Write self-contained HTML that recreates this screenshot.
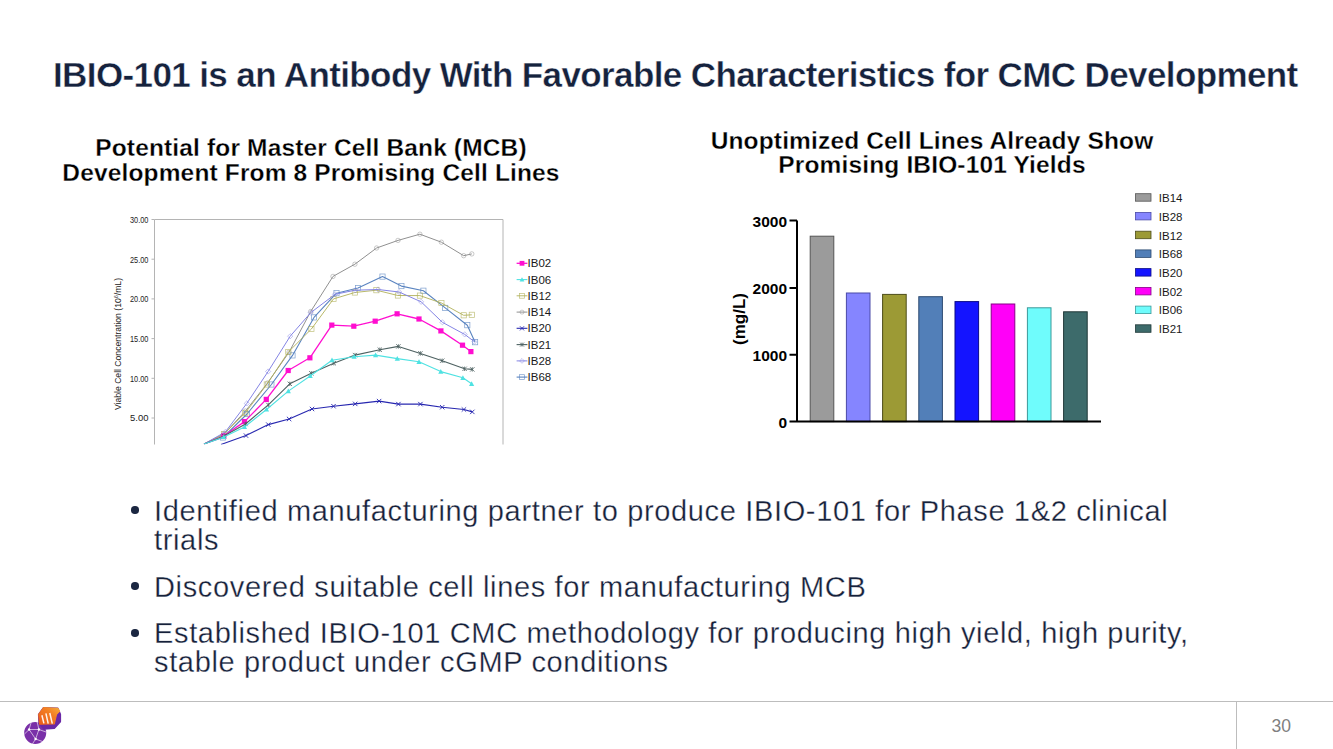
<!DOCTYPE html>
<html><head><meta charset="utf-8">
<style>
html,body{margin:0;padding:0;background:#fff;}
body{width:1333px;height:749px;position:relative;overflow:hidden;font-family:"Liberation Sans",sans-serif;}
.a{position:absolute;white-space:nowrap;}
#title{left:53px;top:55px;font-size:35px;font-weight:bold;color:#15223d;line-height:40px;letter-spacing:-0.61px;-webkit-text-stroke:0.4px #fff;}
.sub{font-size:24.5px;font-weight:bold;color:#000;line-height:24.3px;text-align:center;letter-spacing:0.15px;-webkit-text-stroke:0.3px #fff;}
#subL{left:61px;top:136.3px;width:500px;}
#subR{left:682px;top:128.6px;width:500px;}
.bl{left:154px;font-size:29px;color:#16213a;line-height:29.3px;letter-spacing:0.65px;-webkit-text-stroke:0.3px #fff;}
.dot{position:absolute;width:7.5px;height:7.5px;border-radius:50%;background:#1b2741;}
#footline{left:0;top:701px;width:1333px;height:1px;background:#bdbdbd;}
#footv{left:1236px;top:701px;width:1px;height:48px;background:#bdbdbd;}
#pnum{left:1271.5px;top:715.5px;font-size:17.5px;color:#808080;line-height:20px;}
</style></head>
<body>
<div class="a" id="title">IBIO-101 is an Antibody With Favorable Characteristics for CMC Development</div>
<div class="a sub" id="subL">Potential for Master Cell Bank (MCB)<br>Development From 8 Promising Cell Lines</div>
<div class="a sub" id="subR">Unoptimized Cell Lines Already Show<br>Promising IBIO-101 Yields</div>

<div class="dot" style="left:131.2px;top:506.3px"></div>
<div class="a bl" id="b1" style="top:497px">Identified manufacturing partner to produce IBIO-101 for Phase 1&amp;2 clinical<br>trials</div>
<div class="dot" style="left:131.2px;top:582.2px"></div>
<div class="a bl" id="b3" style="top:573px">Discovered suitable cell lines for manufacturing MCB</div>
<div class="dot" style="left:131.2px;top:629px"></div>
<div class="a bl" id="b4" style="top:619px">Established IBIO-101 CMC methodology for producing high yield, high purity,<br>stable product under cGMP conditions</div>

<div class="a" id="footline"></div>
<div class="a" id="footv"></div>
<div class="a" id="pnum">30</div>

<!-- CHARTS -->
<svg class="a" style="left:0;top:0" width="1333" height="749" viewBox="0 0 1333 749">
<g id="linechart">
<path d="M154.5 444.5V219.5H503V444.5" fill="none" stroke="#b4b4b4" stroke-width="1"/>
<path d="M151.5 219.5H154.5" stroke="#b4b4b4" stroke-width="1"/>
<text x="148.4" y="222.9" text-anchor="end" font-size="9.6" textLength="18.4" lengthAdjust="spacingAndGlyphs" fill="#222">30.00</text>
<path d="M151.5 259.2H154.5" stroke="#b4b4b4" stroke-width="1"/>
<text x="148.4" y="262.6" text-anchor="end" font-size="9.6" textLength="18.4" lengthAdjust="spacingAndGlyphs" fill="#222">25.00</text>
<path d="M151.5 298.9H154.5" stroke="#b4b4b4" stroke-width="1"/>
<text x="148.4" y="302.3" text-anchor="end" font-size="9.6" textLength="18.4" lengthAdjust="spacingAndGlyphs" fill="#222">20.00</text>
<path d="M151.5 338.6H154.5" stroke="#b4b4b4" stroke-width="1"/>
<text x="148.4" y="342.0" text-anchor="end" font-size="9.6" textLength="18.4" lengthAdjust="spacingAndGlyphs" fill="#222">15.00</text>
<path d="M151.5 378.3H154.5" stroke="#b4b4b4" stroke-width="1"/>
<text x="148.4" y="381.7" text-anchor="end" font-size="9.6" textLength="18.4" lengthAdjust="spacingAndGlyphs" fill="#222">10.00</text>
<path d="M151.5 418H154.5" stroke="#b4b4b4" stroke-width="1"/>
<text x="148.4" y="421.4" text-anchor="end" font-size="9.6" textLength="18.4" lengthAdjust="spacingAndGlyphs" fill="#222">5.00</text>
<text transform="translate(121,344) rotate(-90)" text-anchor="middle" font-size="8.6" fill="#222" textLength="132" lengthAdjust="spacingAndGlyphs">Viable Cell Concentration (10<tspan font-size="5.5" dy="-3">6</tspan><tspan dy="3">/mL)</tspan></text>
<clipPath id="pc"><rect x="155" y="200" width="350" height="244.5"/></clipPath>
<filter id="bl" x="-5%" y="-5%" width="110%" height="110%"><feGaussianBlur stdDeviation="0.35"/></filter>
<g clip-path="url(#pc)"><g filter="url(#bl)">
<path d="M204.0 444.0L224.0 434.0L245.5 411.0L267.5 383.0L289.0 352.3L310.7 311.5L333.0 276.4L354.9 264.2L376.6 248.0L398.0 240.4L419.9 234.2L441.4 242.2L463.7 255.7L471.8 253.9" fill="none" stroke="#909090" stroke-width="1.0" stroke-linejoin="round"/>
<circle cx="224.0" cy="434.0" r="2.2" fill="none" stroke="#909090" stroke-width="0.6" opacity="0.8"/>
<circle cx="245.5" cy="411.0" r="2.2" fill="none" stroke="#909090" stroke-width="0.6" opacity="0.8"/>
<circle cx="267.5" cy="383.0" r="2.2" fill="none" stroke="#909090" stroke-width="0.6" opacity="0.8"/>
<circle cx="289.0" cy="352.3" r="2.2" fill="none" stroke="#909090" stroke-width="0.6" opacity="0.8"/>
<circle cx="310.7" cy="311.5" r="2.2" fill="none" stroke="#909090" stroke-width="0.6" opacity="0.8"/>
<circle cx="333.0" cy="276.4" r="2.2" fill="none" stroke="#909090" stroke-width="0.6" opacity="0.8"/>
<circle cx="354.9" cy="264.2" r="2.2" fill="none" stroke="#909090" stroke-width="0.6" opacity="0.8"/>
<circle cx="376.6" cy="248.0" r="2.2" fill="none" stroke="#909090" stroke-width="0.6" opacity="0.8"/>
<circle cx="398.0" cy="240.4" r="2.2" fill="none" stroke="#909090" stroke-width="0.6" opacity="0.8"/>
<circle cx="419.9" cy="234.2" r="2.2" fill="none" stroke="#909090" stroke-width="0.6" opacity="0.8"/>
<circle cx="441.4" cy="242.2" r="2.2" fill="none" stroke="#909090" stroke-width="0.6" opacity="0.8"/>
<circle cx="463.7" cy="255.7" r="2.2" fill="none" stroke="#909090" stroke-width="0.6" opacity="0.8"/>
<circle cx="471.8" cy="253.9" r="2.2" fill="none" stroke="#909090" stroke-width="0.6" opacity="0.8"/>
<path d="M204.0 444.0L223.0 437.5L247.0 414.0L271.4 384.5L292.5 355.4L314.0 317.4L336.5 293.2L358.0 288.0L382.5 276.6L401.4 286.1L423.4 290.7L445.2 307.9L467.3 325.2L475.1 342.2" fill="none" stroke="#5a84c0" stroke-width="1.1" stroke-linejoin="round"/>
<rect x="220.4" y="434.9" width="5.2" height="5.2" fill="none" stroke="#5a84c0" stroke-width="0.7" opacity="0.8"/>
<rect x="244.4" y="411.4" width="5.2" height="5.2" fill="none" stroke="#5a84c0" stroke-width="0.7" opacity="0.8"/>
<rect x="268.8" y="381.9" width="5.2" height="5.2" fill="none" stroke="#5a84c0" stroke-width="0.7" opacity="0.8"/>
<rect x="289.9" y="352.8" width="5.2" height="5.2" fill="none" stroke="#5a84c0" stroke-width="0.7" opacity="0.8"/>
<rect x="311.4" y="314.8" width="5.2" height="5.2" fill="none" stroke="#5a84c0" stroke-width="0.7" opacity="0.8"/>
<rect x="333.9" y="290.6" width="5.2" height="5.2" fill="none" stroke="#5a84c0" stroke-width="0.7" opacity="0.8"/>
<rect x="355.4" y="285.4" width="5.2" height="5.2" fill="none" stroke="#5a84c0" stroke-width="0.7" opacity="0.8"/>
<rect x="379.9" y="274.0" width="5.2" height="5.2" fill="none" stroke="#5a84c0" stroke-width="0.7" opacity="0.8"/>
<rect x="398.8" y="283.5" width="5.2" height="5.2" fill="none" stroke="#5a84c0" stroke-width="0.7" opacity="0.8"/>
<rect x="420.8" y="288.1" width="5.2" height="5.2" fill="none" stroke="#5a84c0" stroke-width="0.7" opacity="0.8"/>
<rect x="442.6" y="305.3" width="5.2" height="5.2" fill="none" stroke="#5a84c0" stroke-width="0.7" opacity="0.8"/>
<rect x="464.7" y="322.6" width="5.2" height="5.2" fill="none" stroke="#5a84c0" stroke-width="0.7" opacity="0.8"/>
<rect x="472.5" y="339.6" width="5.2" height="5.2" fill="none" stroke="#5a84c0" stroke-width="0.7" opacity="0.8"/>
<path d="M204.0 444.0L224.0 434.0L245.3 412.9L266.8 384.5L288.3 352.0L311.4 329.0L333.5 298.9L354.8 292.5L376.4 290.2L397.9 295.5L419.9 295.6L441.4 303.0L463.7 315.3L471.8 314.8" fill="none" stroke="#b0b058" stroke-width="0.9" stroke-linejoin="round"/>
<rect x="221.4" y="431.4" width="5.2" height="5.2" fill="none" stroke="#b0b058" stroke-width="0.7" opacity="0.8"/>
<rect x="242.7" y="410.3" width="5.2" height="5.2" fill="none" stroke="#b0b058" stroke-width="0.7" opacity="0.8"/>
<rect x="264.2" y="381.9" width="5.2" height="5.2" fill="none" stroke="#b0b058" stroke-width="0.7" opacity="0.8"/>
<rect x="285.7" y="349.4" width="5.2" height="5.2" fill="none" stroke="#b0b058" stroke-width="0.7" opacity="0.8"/>
<rect x="308.8" y="326.4" width="5.2" height="5.2" fill="none" stroke="#b0b058" stroke-width="0.7" opacity="0.8"/>
<rect x="330.9" y="296.3" width="5.2" height="5.2" fill="none" stroke="#b0b058" stroke-width="0.7" opacity="0.8"/>
<rect x="352.2" y="289.9" width="5.2" height="5.2" fill="none" stroke="#b0b058" stroke-width="0.7" opacity="0.8"/>
<rect x="373.8" y="287.6" width="5.2" height="5.2" fill="none" stroke="#b0b058" stroke-width="0.7" opacity="0.8"/>
<rect x="395.3" y="292.9" width="5.2" height="5.2" fill="none" stroke="#b0b058" stroke-width="0.7" opacity="0.8"/>
<rect x="417.3" y="293.0" width="5.2" height="5.2" fill="none" stroke="#b0b058" stroke-width="0.7" opacity="0.8"/>
<rect x="438.8" y="300.4" width="5.2" height="5.2" fill="none" stroke="#b0b058" stroke-width="0.7" opacity="0.8"/>
<rect x="461.1" y="312.7" width="5.2" height="5.2" fill="none" stroke="#b0b058" stroke-width="0.7" opacity="0.8"/>
<rect x="469.2" y="312.2" width="5.2" height="5.2" fill="none" stroke="#b0b058" stroke-width="0.7" opacity="0.8"/>
<path d="M204.0 444.0L225.3 432.0L246.8 403.4L268.1 371.5L290.2 336.2L310.7 312.7L335.0 294.3L355.2 290.2L378.2 289.5L399.1 292.0L421.1 301.8L442.4 322.3L464.7 334.4L474.4 341.7" fill="none" stroke="#8484e4" stroke-width="1.0" stroke-linejoin="round"/>
<path d="M225.3 429.4L227.9 432.0L225.3 434.6L222.7 432.0Z" fill="none" stroke="#8484e4" stroke-width="0.6" opacity="0.8"/>
<path d="M246.8 400.8L249.4 403.4L246.8 406.0L244.2 403.4Z" fill="none" stroke="#8484e4" stroke-width="0.6" opacity="0.8"/>
<path d="M268.1 368.9L270.7 371.5L268.1 374.1L265.5 371.5Z" fill="none" stroke="#8484e4" stroke-width="0.6" opacity="0.8"/>
<path d="M290.2 333.6L292.8 336.2L290.2 338.8L287.6 336.2Z" fill="none" stroke="#8484e4" stroke-width="0.6" opacity="0.8"/>
<path d="M310.7 310.1L313.3 312.7L310.7 315.3L308.1 312.7Z" fill="none" stroke="#8484e4" stroke-width="0.6" opacity="0.8"/>
<path d="M335.0 291.7L337.6 294.3L335.0 296.9L332.4 294.3Z" fill="none" stroke="#8484e4" stroke-width="0.6" opacity="0.8"/>
<path d="M355.2 287.6L357.8 290.2L355.2 292.8L352.6 290.2Z" fill="none" stroke="#8484e4" stroke-width="0.6" opacity="0.8"/>
<path d="M378.2 286.9L380.8 289.5L378.2 292.1L375.6 289.5Z" fill="none" stroke="#8484e4" stroke-width="0.6" opacity="0.8"/>
<path d="M399.1 289.4L401.7 292.0L399.1 294.6L396.5 292.0Z" fill="none" stroke="#8484e4" stroke-width="0.6" opacity="0.8"/>
<path d="M421.1 299.2L423.7 301.8L421.1 304.4L418.5 301.8Z" fill="none" stroke="#8484e4" stroke-width="0.6" opacity="0.8"/>
<path d="M442.4 319.7L445.0 322.3L442.4 324.9L439.8 322.3Z" fill="none" stroke="#8484e4" stroke-width="0.6" opacity="0.8"/>
<path d="M464.7 331.8L467.3 334.4L464.7 337.0L462.1 334.4Z" fill="none" stroke="#8484e4" stroke-width="0.6" opacity="0.8"/>
<path d="M474.4 339.1L477.0 341.7L474.4 344.3L471.8 341.7Z" fill="none" stroke="#8484e4" stroke-width="0.6" opacity="0.8"/>
<path d="M204.0 444.0L223.8 436.0L244.5 421.6L266.3 399.4L288.2 370.5L309.9 357.8L331.8 325.1L353.8 326.2L375.2 321.2L397.1 313.8L419.0 319.0L440.9 330.9L462.5 345.2L470.9 351.6" fill="none" stroke="#ff10d0" stroke-width="1.3" stroke-linejoin="round"/>
<rect x="221.2" y="433.4" width="5.2" height="5.2" fill="#ff10d0"/>
<rect x="241.9" y="419.0" width="5.2" height="5.2" fill="#ff10d0"/>
<rect x="263.7" y="396.8" width="5.2" height="5.2" fill="#ff10d0"/>
<rect x="285.6" y="367.9" width="5.2" height="5.2" fill="#ff10d0"/>
<rect x="307.3" y="355.2" width="5.2" height="5.2" fill="#ff10d0"/>
<rect x="329.2" y="322.5" width="5.2" height="5.2" fill="#ff10d0"/>
<rect x="351.2" y="323.6" width="5.2" height="5.2" fill="#ff10d0"/>
<rect x="372.6" y="318.6" width="5.2" height="5.2" fill="#ff10d0"/>
<rect x="394.5" y="311.2" width="5.2" height="5.2" fill="#ff10d0"/>
<rect x="416.4" y="316.4" width="5.2" height="5.2" fill="#ff10d0"/>
<rect x="438.3" y="328.3" width="5.2" height="5.2" fill="#ff10d0"/>
<rect x="459.9" y="342.6" width="5.2" height="5.2" fill="#ff10d0"/>
<rect x="468.3" y="349.0" width="5.2" height="5.2" fill="#ff10d0"/>
<path d="M204.0 444.0L224.0 436.0L245.5 424.0L268.3 404.9L289.8 383.8L311.3 373.3L333.8 363.2L355.0 355.1L379.8 349.7L398.4 346.4L420.4 353.4L442.2 360.7L464.6 368.8L472.3 369.4" fill="none" stroke="#4e6262" stroke-width="1.1" stroke-linejoin="round"/>
<path d="M221.8 433.8L226.2 438.2M226.2 433.8L221.8 438.2M224.0 433.8L224.0 438.2" stroke="#4e6262" stroke-width="0.8"/>
<path d="M243.3 421.8L247.7 426.2M247.7 421.8L243.3 426.2M245.5 421.8L245.5 426.2" stroke="#4e6262" stroke-width="0.8"/>
<path d="M266.1 402.7L270.5 407.1M270.5 402.7L266.1 407.1M268.3 402.7L268.3 407.1" stroke="#4e6262" stroke-width="0.8"/>
<path d="M287.6 381.6L292.0 386.0M292.0 381.6L287.6 386.0M289.8 381.6L289.8 386.0" stroke="#4e6262" stroke-width="0.8"/>
<path d="M309.1 371.1L313.5 375.5M313.5 371.1L309.1 375.5M311.3 371.1L311.3 375.5" stroke="#4e6262" stroke-width="0.8"/>
<path d="M331.6 361.0L336.0 365.4M336.0 361.0L331.6 365.4M333.8 361.0L333.8 365.4" stroke="#4e6262" stroke-width="0.8"/>
<path d="M352.8 352.9L357.2 357.3M357.2 352.9L352.8 357.3M355.0 352.9L355.0 357.3" stroke="#4e6262" stroke-width="0.8"/>
<path d="M377.6 347.5L382.0 351.9M382.0 347.5L377.6 351.9M379.8 347.5L379.8 351.9" stroke="#4e6262" stroke-width="0.8"/>
<path d="M396.2 344.2L400.6 348.6M400.6 344.2L396.2 348.6M398.4 344.2L398.4 348.6" stroke="#4e6262" stroke-width="0.8"/>
<path d="M418.2 351.2L422.6 355.6M422.6 351.2L418.2 355.6M420.4 351.2L420.4 355.6" stroke="#4e6262" stroke-width="0.8"/>
<path d="M440.0 358.5L444.4 362.9M444.4 358.5L440.0 362.9M442.2 358.5L442.2 362.9" stroke="#4e6262" stroke-width="0.8"/>
<path d="M462.4 366.6L466.8 371.0M466.8 366.6L462.4 371.0M464.6 366.6L464.6 371.0" stroke="#4e6262" stroke-width="0.8"/>
<path d="M470.1 367.2L474.5 371.6M474.5 367.2L470.1 371.6M472.3 367.2L472.3 371.6" stroke="#4e6262" stroke-width="0.8"/>
<path d="M204.0 444.0L223.8 437.0L244.5 427.0L266.5 409.5L288.3 391.1L310.2 376.0L332.0 360.2L354.1 356.7L375.6 355.1L397.3 358.6L419.0 361.8L440.8 371.6L462.9 377.8L471.6 383.8" fill="none" stroke="#4fe2e2" stroke-width="1.1" stroke-linejoin="round"/>
<path d="M223.8 434.4L226.4 439.1L221.2 439.1Z" fill="#4fe2e2"/>
<path d="M244.5 424.4L247.1 429.1L241.9 429.1Z" fill="#4fe2e2"/>
<path d="M266.5 406.9L269.1 411.6L263.9 411.6Z" fill="#4fe2e2"/>
<path d="M288.3 388.5L290.9 393.2L285.7 393.2Z" fill="#4fe2e2"/>
<path d="M310.2 373.4L312.8 378.1L307.6 378.1Z" fill="#4fe2e2"/>
<path d="M332.0 357.6L334.6 362.3L329.4 362.3Z" fill="#4fe2e2"/>
<path d="M354.1 354.1L356.7 358.8L351.5 358.8Z" fill="#4fe2e2"/>
<path d="M375.6 352.5L378.2 357.2L373.0 357.2Z" fill="#4fe2e2"/>
<path d="M397.3 356.0L399.9 360.7L394.7 360.7Z" fill="#4fe2e2"/>
<path d="M419.0 359.2L421.6 363.9L416.4 363.9Z" fill="#4fe2e2"/>
<path d="M440.8 369.0L443.4 373.7L438.2 373.7Z" fill="#4fe2e2"/>
<path d="M462.9 375.2L465.5 379.9L460.3 379.9Z" fill="#4fe2e2"/>
<path d="M471.6 381.2L474.2 385.9L469.0 385.9Z" fill="#4fe2e2"/>
<path d="M221.0 444.5L246.0 435.6L268.3 424.6L289.1 419.0L312.0 409.0L333.5 406.2L355.2 403.9L379.1 401.1L398.4 404.1L420.4 404.1L442.2 407.2L463.9 409.5L472.3 411.9" fill="none" stroke="#2828b0" stroke-width="1.1" stroke-linejoin="round"/>
<path d="M243.8 433.4L248.2 437.8M248.2 433.4L243.8 437.8" stroke="#2828b0" stroke-width="0.9"/>
<path d="M266.1 422.4L270.5 426.8M270.5 422.4L266.1 426.8" stroke="#2828b0" stroke-width="0.9"/>
<path d="M286.9 416.8L291.3 421.2M291.3 416.8L286.9 421.2" stroke="#2828b0" stroke-width="0.9"/>
<path d="M309.8 406.8L314.2 411.2M314.2 406.8L309.8 411.2" stroke="#2828b0" stroke-width="0.9"/>
<path d="M331.3 404.0L335.7 408.4M335.7 404.0L331.3 408.4" stroke="#2828b0" stroke-width="0.9"/>
<path d="M353.0 401.7L357.4 406.1M357.4 401.7L353.0 406.1" stroke="#2828b0" stroke-width="0.9"/>
<path d="M376.9 398.9L381.3 403.3M381.3 398.9L376.9 403.3" stroke="#2828b0" stroke-width="0.9"/>
<path d="M396.2 401.9L400.6 406.3M400.6 401.9L396.2 406.3" stroke="#2828b0" stroke-width="0.9"/>
<path d="M418.2 401.9L422.6 406.3M422.6 401.9L418.2 406.3" stroke="#2828b0" stroke-width="0.9"/>
<path d="M440.0 405.0L444.4 409.4M444.4 405.0L440.0 409.4" stroke="#2828b0" stroke-width="0.9"/>
<path d="M461.7 407.3L466.1 411.7M466.1 407.3L461.7 411.7" stroke="#2828b0" stroke-width="0.9"/>
<path d="M470.1 409.7L474.5 414.1M474.5 409.7L470.1 414.1" stroke="#2828b0" stroke-width="0.9"/>
</g></g>
<path d="M516.6 263.3H527.4" stroke="#ff10d0" stroke-width="1.3"/>
<rect x="519.6" y="260.9" width="4.8" height="4.8" fill="#ff10d0"/>
<text x="527.6" y="267.4" font-size="11.5" fill="#1a1a1a">IB02</text>
<path d="M516.6 279.6H527.4" stroke="#4fe2e2" stroke-width="1.1"/>
<path d="M522.0 277.2L524.4 281.5L519.6 281.5Z" fill="#4fe2e2"/>
<text x="527.6" y="283.7" font-size="11.5" fill="#1a1a1a">IB06</text>
<path d="M516.6 295.8H527.4" stroke="#b0b058" stroke-width="0.9"/>
<rect x="519.6" y="293.4" width="4.8" height="4.8" fill="none" stroke="#b0b058" stroke-width="0.7" opacity="0.8"/>
<text x="527.6" y="299.9" font-size="11.5" fill="#1a1a1a">IB12</text>
<path d="M516.6 312.1H527.4" stroke="#909090" stroke-width="1.0"/>
<circle cx="522.0" cy="312.1" r="2.0" fill="none" stroke="#909090" stroke-width="0.6" opacity="0.8"/>
<text x="527.6" y="316.2" font-size="11.5" fill="#1a1a1a">IB14</text>
<path d="M516.6 328.3H527.4" stroke="#2828b0" stroke-width="1.1"/>
<path d="M520.0 326.3L524.0 330.4M524.0 326.3L520.0 330.4" stroke="#2828b0" stroke-width="0.9"/>
<text x="527.6" y="332.4" font-size="11.5" fill="#1a1a1a">IB20</text>
<path d="M516.6 344.6H527.4" stroke="#4e6262" stroke-width="1.1"/>
<path d="M520.0 342.6L524.0 346.6M524.0 342.6L520.0 346.6M522.0 342.6L522.0 346.6" stroke="#4e6262" stroke-width="0.8"/>
<text x="527.6" y="348.7" font-size="11.5" fill="#1a1a1a">IB21</text>
<path d="M516.6 360.9H527.4" stroke="#8484e4" stroke-width="1.0"/>
<path d="M522.0 358.5L524.4 360.9L522.0 363.3L519.6 360.9Z" fill="none" stroke="#8484e4" stroke-width="0.6" opacity="0.8"/>
<text x="527.6" y="365.0" font-size="11.5" fill="#1a1a1a">IB28</text>
<path d="M516.6 377.1H527.4" stroke="#5a84c0" stroke-width="1.1"/>
<rect x="519.6" y="374.7" width="4.8" height="4.8" fill="none" stroke="#5a84c0" stroke-width="0.7" opacity="0.8"/>
<text x="527.6" y="381.2" font-size="11.5" fill="#1a1a1a">IB68</text>
</g>
<g id="barchart">
<rect x="810.2" y="236.2" width="23.6" height="185.4" fill="#9b9b9b" stroke="#555" stroke-width="1"/>
<rect x="846.4" y="293.0" width="23.6" height="128.6" fill="#8585ff" stroke="#4a4aa8" stroke-width="1"/>
<rect x="882.6" y="294.4" width="23.6" height="127.2" fill="#9c9a35" stroke="#4d4d1a" stroke-width="1"/>
<rect x="918.8" y="296.7" width="23.6" height="124.9" fill="#527fb8" stroke="#2c4a70" stroke-width="1"/>
<rect x="955.0" y="301.6" width="23.6" height="120.0" fill="#1414ff" stroke="#0a0a88" stroke-width="1"/>
<rect x="991.2" y="304.0" width="23.6" height="117.6" fill="#ff00f8" stroke="#880088" stroke-width="1"/>
<rect x="1027.4" y="307.8" width="23.6" height="113.8" fill="#6ffcfc" stroke="#3a9a9a" stroke-width="1"/>
<rect x="1063.6" y="311.8" width="23.6" height="109.8" fill="#3d6b6b" stroke="#203838" stroke-width="1"/>
<path d="M797 220.5V422.6M789.5 220.5H797M789.5 288H797M789.5 354.8H797M789.5 421.6H797M796 421.6H1101" fill="none" stroke="#000" stroke-width="2"/>
<text x="787" y="226.9" text-anchor="end" font-size="15.5" font-weight="bold" fill="#000">3000</text>
<text x="787" y="294.4" text-anchor="end" font-size="15.5" font-weight="bold" fill="#000">2000</text>
<text x="787" y="361.2" text-anchor="end" font-size="15.5" font-weight="bold" fill="#000">1000</text>
<text x="787" y="428.0" text-anchor="end" font-size="15.5" font-weight="bold" fill="#000">0</text>
<text transform="translate(745.2,319) rotate(-90)" text-anchor="middle" font-size="17" font-weight="bold" fill="#000">(mg/L)</text>
<rect x="1135.5" y="193.7" width="15.5" height="7.5" fill="#9b9b9b" stroke="#555" stroke-width="0.8"/>
<text x="1158.8" y="202.0" font-size="11.5" fill="#1a1a1a">IB14</text>
<rect x="1135.5" y="212.4" width="15.5" height="7.5" fill="#8585ff" stroke="#4a4aa8" stroke-width="0.8"/>
<text x="1158.8" y="220.7" font-size="11.5" fill="#1a1a1a">IB28</text>
<rect x="1135.5" y="231.2" width="15.5" height="7.5" fill="#9c9a35" stroke="#4d4d1a" stroke-width="0.8"/>
<text x="1158.8" y="239.5" font-size="11.5" fill="#1a1a1a">IB12</text>
<rect x="1135.5" y="249.9" width="15.5" height="7.5" fill="#527fb8" stroke="#2c4a70" stroke-width="0.8"/>
<text x="1158.8" y="258.2" font-size="11.5" fill="#1a1a1a">IB68</text>
<rect x="1135.5" y="268.6" width="15.5" height="7.5" fill="#1414ff" stroke="#0a0a88" stroke-width="0.8"/>
<text x="1158.8" y="276.9" font-size="11.5" fill="#1a1a1a">IB20</text>
<rect x="1135.5" y="287.4" width="15.5" height="7.5" fill="#ff00f8" stroke="#880088" stroke-width="0.8"/>
<text x="1158.8" y="295.7" font-size="11.5" fill="#1a1a1a">IB02</text>
<rect x="1135.5" y="306.1" width="15.5" height="7.5" fill="#6ffcfc" stroke="#3a9a9a" stroke-width="0.8"/>
<text x="1158.8" y="314.4" font-size="11.5" fill="#1a1a1a">IB06</text>
<rect x="1135.5" y="324.8" width="15.5" height="7.5" fill="#3d6b6b" stroke="#203838" stroke-width="0.8"/>
<text x="1158.8" y="333.1" font-size="11.5" fill="#1a1a1a">IB21</text>
</g>
<g id="logo">
<defs><linearGradient id="og" x1="0" y1="1" x2="1" y2="0"><stop offset="0" stop-color="#ea5a1c"/><stop offset="0.6" stop-color="#f27d22"/><stop offset="1" stop-color="#f6ac3a"/></linearGradient></defs>
<circle cx="35.2" cy="732.9" r="11" fill="#7a30a8"/>
<path d="M29.1 729.5L38.9 729.5L35.6 739L29.1 729.5M29.1 729.5L24.5 734M29.1 729.5L31.2 722.3M38.9 729.5L37.2 722M38.9 729.5L46 732M35.6 739L32.5 743.8M35.6 739L42.5 741.5" stroke="#fff" stroke-width="0.75" fill="none" opacity="0.8"/>
<circle cx="29.1" cy="729.5" r="1.2" fill="#fff"/><circle cx="38.9" cy="729.5" r="1.2" fill="#fff"/><circle cx="35.6" cy="739" r="1.2" fill="#fff"/>
<path d="M43.6 707.7L57.8 708.3L60.3 714.4L60.3 721.6L54.3 728.3L44 729L39.1 722.9L38.7 714.4Z" fill="#6a28a6" stroke="#6a28a6" stroke-width="1.6" stroke-linejoin="round"/>
<path d="M43.6 707.7L57.8 708.3L59.6 711.2L56.5 714.4L54.3 723.8L39.6 724.2L38.7 714.4Z" fill="url(#og)" stroke="url(#og)" stroke-width="1.2" stroke-linejoin="round"/>
<path d="M41.9 715.2L43.9 723.4M45.9 713.3L48.2 723.6M49.8 713L52.3 723.6" stroke="#fff" stroke-width="1.5" fill="none" opacity="0.9"/>
</g>
</svg>
</body></html>
